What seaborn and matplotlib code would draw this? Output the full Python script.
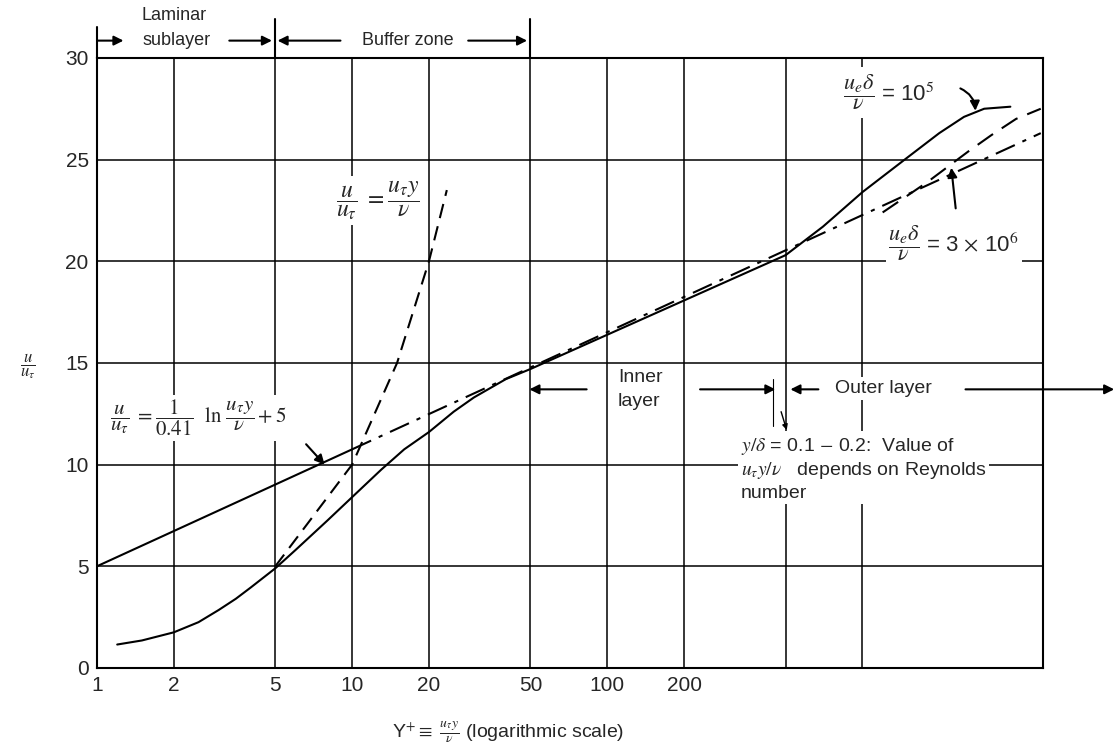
import matplotlib
matplotlib.use("Agg")
import matplotlib.pyplot as plt
import seaborn as sns

# grid / ticks
grid_x = [1, 2, 5, 10, 20, 50, 100, 200, 500, 1000]
grid_x_labels = ["1", "2", "5", "10", "20", "50", "100", "200", "", ""]
grid_y = [0, 5, 10, 15, 20, 25, 30]

# measured profile, wall to log region (solid)
yp_profile = [1.2, 1.5, 2, 2.5, 3, 3.5, 4, 5, 6, 8, 10, 13, 16, 20, 25, 30, 40, 50, 500]
up_profile = [1.15, 1.35, 1.75, 2.25, 2.85, 3.4, 3.95, 4.9, 5.8, 7.25, 8.4, 9.75, 10.75, 11.6, 12.6, 13.3, 14.2, 14.7, 20.3]

# outer part, ue*delta/nu = 1e5 (solid)
yp_re_low = [500, 700, 1000, 1500, 2000, 2500, 3000, 3800]
up_re_low = [20.3, 21.7, 23.4, 25.1, 26.3, 27.1, 27.5, 27.6]

# outer part, ue*delta/nu = 3e6 (dashed)
yp_re_high = [1200, 1800, 2600, 3200, 4000, 5000]
up_re_high = [22.4, 23.9, 25.4, 26.2, 27.0, 27.5]

# viscous sublayer u+ = y+ (dashed)
yp_lin = [5, 10, 15, 20, 23.5]
up_lin = [5, 10, 15, 20, 23.5]

# log law (solid near wall, dash-dot after)
yp_log_a = [1, 10]
up_log_a = [5.0, 10.75]
yp_log_b = [10, 5000]
up_log_b = [10.75, 26.3]

zone_edges = [1, 5, 50]

sns.set_style("white")
plt.rcParams["font.family"] = ["Liberation Sans", "DejaVu Sans"]
plt.rcParams["mathtext.fontset"] = "stix"

fig = plt.figure(figsize=(11.15, 7.53), dpi=100)
ax = fig.add_axes([0.087, 0.113, 0.8484, 0.8101])
ax.set_xscale("log")
ax.set_xlim(1, 5100)
ax.set_ylim(0, 30)

ax.set_xticks(grid_x)
ax.set_xticklabels(grid_x_labels)
ax.xaxis.set_minor_locator(matplotlib.ticker.NullLocator())
ax.set_yticks(grid_y)
ax.tick_params(length=0, labelsize=15, pad=6)
ax.grid(True, color="black", lw=1.1)
ax.set_axisbelow(True)
for s in ax.spines.values():
    s.set_color("black")
    s.set_linewidth(1.5)

lw = 1.5
sns.lineplot(x=yp_profile, y=up_profile, ax=ax, color="black", lw=lw, estimator=None, sort=False, zorder=5)
sns.lineplot(x=yp_re_low, y=up_re_low, ax=ax, color="black", lw=lw, estimator=None, sort=False, zorder=5)
sns.lineplot(x=yp_re_high, y=up_re_high, ax=ax, color="black", lw=lw, estimator=None, sort=False,
             linestyle=(0, (9, 5)), zorder=5)
sns.lineplot(x=yp_lin, y=up_lin, ax=ax, color="black", lw=lw, estimator=None, sort=False,
             linestyle=(0, (7, 4)), zorder=5)
sns.lineplot(x=yp_log_a, y=up_log_a, ax=ax, color="black", lw=lw, estimator=None, sort=False, zorder=5)
sns.lineplot(x=yp_log_b, y=up_log_b, ax=ax, color="black", lw=lw, estimator=None, sort=False,
             linestyle=(0, (10, 4, 2, 4)), zorder=5)

arr = dict(arrowstyle="-|>", color="black", lw=1.5, shrinkA=0, shrinkB=0, mutation_scale=14)
white = dict(facecolor="white", edgecolor="none", pad=2)

# zone markers above the frame
for xe, top in zip(zone_edges, [31.5, 31.9, 31.9]):
    ax.plot([xe, xe], [30, top], color="black", lw=1.5, clip_on=False)

ax.text(2.0, 32.1, "Laminar", ha="center", va="center", fontsize=13)
ax.text(2.05, 30.85, "sublayer", ha="center", va="center", fontsize=13)
ax.annotate("", xy=(1.27, 30.85), xytext=(1.0, 30.85), arrowprops=arr, annotation_clip=False)
ax.annotate("", xy=(4.85, 30.85), xytext=(3.3, 30.85), arrowprops=arr, annotation_clip=False)
ax.text(16.5, 30.85, "Buffer zone", ha="center", va="center", fontsize=13)
ax.annotate("", xy=(5.1, 30.85), xytext=(9.0, 30.85), arrowprops=arr, annotation_clip=False)
ax.annotate("", xy=(48.5, 30.85), xytext=(28.5, 30.85), arrowprops=arr, annotation_clip=False)

# formulas
ax.text(12.6, 23.0, r"$\dfrac{u}{u_\tau}\ = \dfrac{u_\tau y}{\nu}$", ha="center", va="center",
        fontsize=17, bbox=white, zorder=3)
ax.text(1.12, 12.3, r"$\dfrac{u}{u_\tau}\ = \dfrac{1}{0.41}\ \ \mathrm{ln}\ \dfrac{u_\tau y}{\nu} + 5$",
        ha="left", va="center", fontsize=15, bbox=white, zorder=3)
ax.annotate("", xy=(7.8, 10.0), xytext=(6.6, 11.0), arrowprops=arr)

ax.text(840, 28.3, r"$\dfrac{u_e\delta}{\nu}$ = 10$^5$", ha="left", va="center", fontsize=16,
        bbox=dict(facecolor="white", edgecolor="none", pad=4), zorder=3)
ax.annotate("", xy=(2770, 27.4), xytext=(2420, 28.5),
            arrowprops=dict(arr, connectionstyle="arc3,rad=-0.3"))
ax.text(1265, 20.9, r"$\dfrac{u_e\delta}{\nu}$ = 3 $\times$ 10$^6$", ha="left", va="center",
        fontsize=16, bbox=white, zorder=3)
ax.annotate("", xy=(2230, 24.6), xytext=(2320, 22.6), arrowprops=arr)

# inner / outer layer
ax.text(110, 14.3, "Inner", ha="left", va="center", fontsize=14)
ax.text(110, 13.1, "layer", ha="left", va="center", fontsize=14)
ax.annotate("", xy=(49.5, 13.7), xytext=(83, 13.7), arrowprops=arr)
ax.annotate("", xy=(456, 13.7), xytext=(231, 13.7), arrowprops=arr)
ax.annotate("", xy=(522, 13.7), xytext=(672, 13.7), arrowprops=arr)
ax.text(783, 13.75, "Outer layer", ha="left", va="center", fontsize=14, bbox=white, zorder=3)
ax.annotate("", xy=(9700, 13.7), xytext=(2535, 13.7), arrowprops=arr, annotation_clip=False)
ax.plot([448, 448], [11.9, 14.2], color="black", lw=0.8)
ax.annotate("", xy=(505, 11.7), xytext=(480, 12.6), arrowprops=dict(arr, lw=1, mutation_scale=8))

ax.text(333, 9.8,
        "$y/\\delta$ = 0.1 $-$ 0.2:  Value of\n$u_\\tau y/\\nu$   depends on Reynolds\nnumber",
        ha="left", va="center", fontsize=14, linespacing=1.25, bbox=white, zorder=3)

# axis labels
fig.text(0.352, 0.029, r"Y$^{+}$$\equiv$ $\frac{u_\tau y}{\nu}$ (logarithmic scale)", ha="left",
         va="center", fontsize=14)
fig.text(0.025, 0.514, r"$\dfrac{u}{u_\tau}$", ha="center", va="center", fontsize=12)

fig.savefig("out.png", dpi=100)
